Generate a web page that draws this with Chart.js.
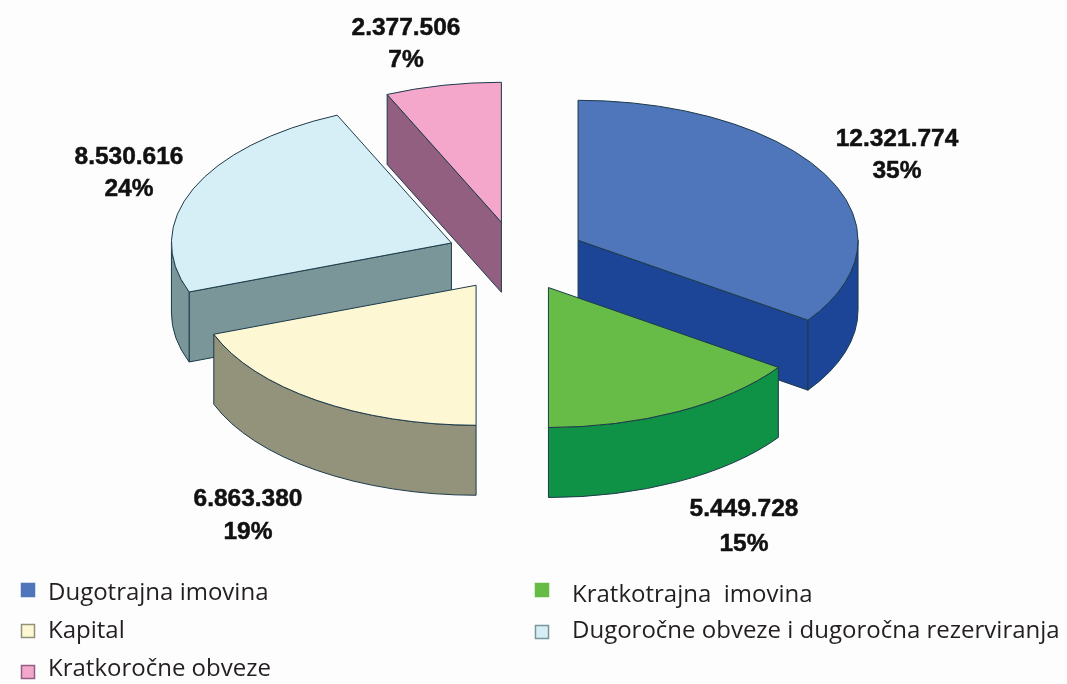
<!DOCTYPE html>
<html><head><meta charset="utf-8">
<style>html,body{margin:0;padding:0;background:#fdfdfe}canvas{display:block}</style>
<script src="https://cdn.jsdelivr.net/npm/chart.js@4/dist/chart.umd.js"></script>
</head><body><canvas id="c" width="1067" height="684"></canvas>
<script>
const categories = ['Dugotrajna imovina','Kratkotrajna  imovina','Kapital','Dugoročne obveze i dugoročna rezerviranja','Kratkoročne obveze'];
const values = [12321774,5449728,6863380,8530616,2377506];
const valueLabels = ['12.321.774','5.449.728','6.863.380','8.530.616','2.377.506'];
const percentLabels = ['35%','15%','19%','24%','7%'];
const topColors = ['#4f75bb','#66bc46','#fdf8d3','#d6eff7','#f4a6cb'];
const wallColors = ['#1d4597','#0f9146','#93927a','#7a9698','#925f80'];

const TILT = 0.5, DEPTH = 70, EXPLODE = 70, EDGE = '#1c3a4a';
const labelPos = [[897,139,171],[744,509,544],[248,499,532],[129,157,189],[406,28,60]];
const legendPos = [[21,583,48,600],[535,583,572,602],[21,624,48,638],[535,625,572,638],[21,665,48,676]];

const pie3d = {
  id:'pie3d',
  beforeDatasetDraw(chart,args){
    const ctx = chart.ctx, arcs = chart.getDatasetMeta(args.index).data;
    const order = arcs.map((a,i)=>i).sort((p,q)=>{
      const m=a=>Math.sin((arcs[a].startAngle+arcs[a].endAngle)/2);
      return m(p)-m(q);
    });
    for(const i of order){
      const a = arcs[i], s=a.startAngle, e=a.endAngle, r=a.outerRadius, mid=(s+e)/2;
      const cx = a.x + Math.cos(mid)*EXPLODE;
      const cy = a.y + Math.sin(mid)*EXPLODE*TILT;
      ctx.save();
      ctx.lineWidth=1; ctx.strokeStyle=EDGE; ctx.lineJoin='round';
      ctx.fillStyle=wallColors[i];
      const quad=t=>{
        const px=cx+Math.cos(t)*r, py=cy+Math.sin(t)*r*TILT;
        ctx.beginPath();ctx.moveTo(cx,cy);ctx.lineTo(px,py);ctx.lineTo(px,py+DEPTH);ctx.lineTo(cx,cy+DEPTH);ctx.closePath();ctx.fill();ctx.stroke();
      };
      if(-Math.cos(s)>1e-6) quad(s);
      if(Math.cos(e)>1e-6) quad(e);
      const a0=Math.max(s,0), a1=Math.min(e,Math.PI);
      if(a1>a0){
        ctx.beginPath();
        ctx.ellipse(cx,cy,r,r*TILT,0,a0,a1);
        ctx.ellipse(cx,cy+DEPTH,r,r*TILT,0,a1,a0,true);
        ctx.closePath();ctx.fill();ctx.stroke();
      }
      // top face: the library's own arc element, tilted and moved out
      ctx.save();
      ctx.translate(cx,cy);ctx.scale(1,TILT);ctx.translate(-a.x,-a.y);
      a.draw(ctx);
      ctx.restore();
      ctx.beginPath();
      ctx.moveTo(cx,cy);ctx.ellipse(cx,cy,r,r*TILT,0,s,e);ctx.closePath();ctx.stroke();
      ctx.restore();
    }
    return false;
  },
  afterDraw(chart){
    const ctx=chart.ctx;
    ctx.save();
    ctx.fillStyle='#111';ctx.strokeStyle='#111';ctx.lineWidth=0.5;ctx.textAlign='center';ctx.textBaseline='middle';
    ctx.font='bold 24.5px "Liberation Sans"';
    values.forEach((v,i)=>{
      const [x,y1,y2]=labelPos[i];
      ctx.fillText(valueLabels[i],x,y1);ctx.strokeText(valueLabels[i],x,y1);
      ctx.fillText(percentLabels[i],x,y2);ctx.strokeText(percentLabels[i],x,y2);
    });
    ctx.textAlign='left';ctx.textBaseline='alphabetic';
    ctx.font='24px "Open Sans"';
    categories.forEach((c,i)=>{
      const [mx,my,tx,ty]=legendPos[i];
      ctx.fillStyle=topColors[i];ctx.strokeStyle=i<2?topColors[i]:wallColors[i];ctx.lineWidth=1.5;
      ctx.fillRect(mx+.5,my+.5,13,13);ctx.strokeRect(mx+.5,my+.5,13,13);
      ctx.fillStyle='#231f20';
      ctx.fillText(c,tx,ty);
    });
    ctx.restore();
  }
};

new Chart(document.getElementById('c'),{
  type:'pie',
  data:{labels:categories,datasets:[{data:values,backgroundColor:topColors,borderWidth:0,clip:false}]},
  options:{responsive:false,animation:false,radius:280,
    layout:{padding:{right:35,bottom:171}},
    plugins:{legend:{display:false},tooltip:{enabled:false}}},
  plugins:[pie3d]
});
</script></body></html>
